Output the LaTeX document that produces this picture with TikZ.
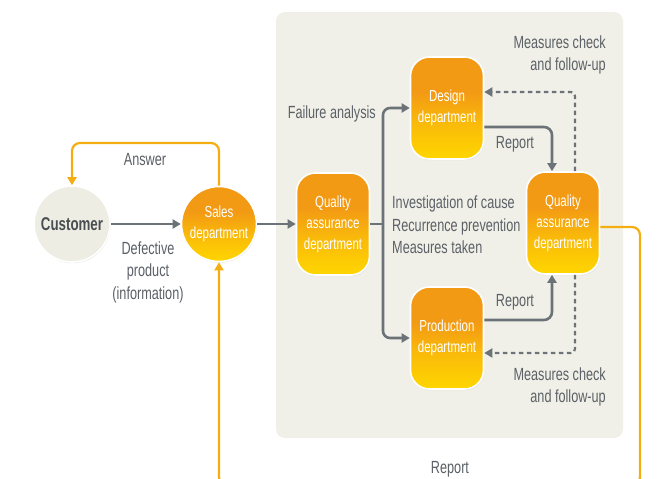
\documentclass[tikz,border=0pt]{standalone}
\usepackage{fontspec}
\setmainfont[FakeStretch=0.72]{Liberation Sans}
\usetikzlibrary{arrows.meta,shadows}
\definecolor{qorange}{HTML}{F39A14}
\definecolor{qyellow}{HTML}{FFD600}
\definecolor{qline}{HTML}{6B7379}
\definecolor{qtext}{HTML}{5B6167}
\definecolor{qpanel}{HTML}{F1F0E8}
\definecolor{qcust}{HTML}{EEEDE4}
\definecolor{qreport}{HTML}{F5AE12}
\pgfdeclareverticalshading{deptshade}{100bp}{color(0bp)=(qyellow); color(25bp)=(qyellow); color(42bp)=(qorange!45!qyellow); color(58bp)=(qorange); color(100bp)=(qorange)}

\begin{document}
\begin{tikzpicture}
		[x=1pt,y=-1pt,
		deptnode/.style={shading=deptshade, draw=white, line width=1.6pt, text=white,
			font=\fontsize{16}{21}\selectfont, align=center, inner sep=0pt,
			drop shadow={opacity=0.18, shadow xshift=0.6pt, shadow yshift=-1.2pt}},
		deptbox/.style={deptnode, rectangle, rounded corners=19pt,
			minimum width=73pt, minimum height=102pt},
		note/.style={text=qtext, font=\fontsize{17.6}{22.5}\selectfont, inner sep=0pt},
		flow/.style={draw=qline, line width=2.6pt, -{Triangle[length=8pt,width=9pt]}},
		check/.style={flow, dash pattern=on 4.5pt off 3.5pt, line width=2.2pt},
		answer/.style={draw=qreport, line width=2.2pt, -{Triangle[length=8pt,width=9pt]}}]
		\clip (0,0) rectangle (659,479);
		\fill[white] (0,0) rectangle (659,479);
		%-----panel
		\fill[qpanel, rounded corners=9pt] (276,12) rectangle (623,438);
		%-----nodes
		\node[circle, minimum size=76pt, fill=qcust, draw=white, line width=1.6pt,
			text=qtext!80!black, font=\bfseries\fontsize{18.5}{20}\selectfont, inner sep=0pt,
			drop shadow={opacity=0.18, shadow xshift=0.6pt, shadow yshift=-1.2pt}]
			(Customer) at (72,224) {Customer};
		\node[deptnode, circle, minimum size=75pt] (Sales) at (219,224) {Sales\\department};
		\node[deptbox] (QAin) at (333,224) {Quality\\assurance\\department};
		\node[deptbox] (Design) at (447,108) {Design\\department};
		\node[deptbox] (QAout) at (563,223) {Quality\\assurance\\department};
		\node[deptbox] (Production) at (447,338) {Production\\department};
		\coordinate (split) at (383,224);
		%-----labels
		\node[note] (answerlbl) at (145,160) {Answer};
		\node[note, align=center] (defect) at (148,272) {Defective\\product\\(information)};
		\node[note, anchor=east] (failure) at (376,114) {Failure analysis};
		\node[note, align=right, anchor=east] (checkup) at (606,55) {Measures check\\and follow-up};
		\node[note, align=left, anchor=west] (cause) at (392,225) {Investigation of cause\\Recurrence prevention\\Measures taken};
		\node[note] (repup) at (515,144) {Report};
		\node[note] (repdown) at (515,302) {Report};
		\node[note, align=right, anchor=east] (checkdown) at (606,387) {Measures check\\and follow-up};
		\node[note] (repbottom) at (450,469) {Report};
		%-----connectors
		\foreach \from/\to in {Customer/Sales,Sales/QAin}
		\draw[flow] (\from) -- (\to);
		\draw[draw=qline, line width=2.6pt] (QAin) -- (split);
		\foreach \to in {Design,Production}
		\draw[flow, rounded corners=7pt] (split) |- (\to);
		\draw[flow, rounded corners=8pt] ([yshift=-19pt]Design.east) -| ([xshift=-11pt]QAout.north);
		\draw[flow, rounded corners=8pt] ([yshift=18pt]Production.east) -| ([xshift=-11pt]QAout.south);
		\draw[check, rounded corners=4pt] ([xshift=12pt]QAout.north) |- ([yshift=16pt]Design.east);
		\draw[check, rounded corners=4pt] ([xshift=12pt]QAout.south) |- ([yshift=-15pt]Production.east);
		\draw[answer, rounded corners=8pt] (Sales.north) -- (Sales.north |- 0,143) -| (Customer.north);
		\draw[answer, rounded corners=8pt] ([yshift=-4pt]QAout.east) -| (640,485) -| (Sales.south);
\end{tikzpicture}
\end{document}
